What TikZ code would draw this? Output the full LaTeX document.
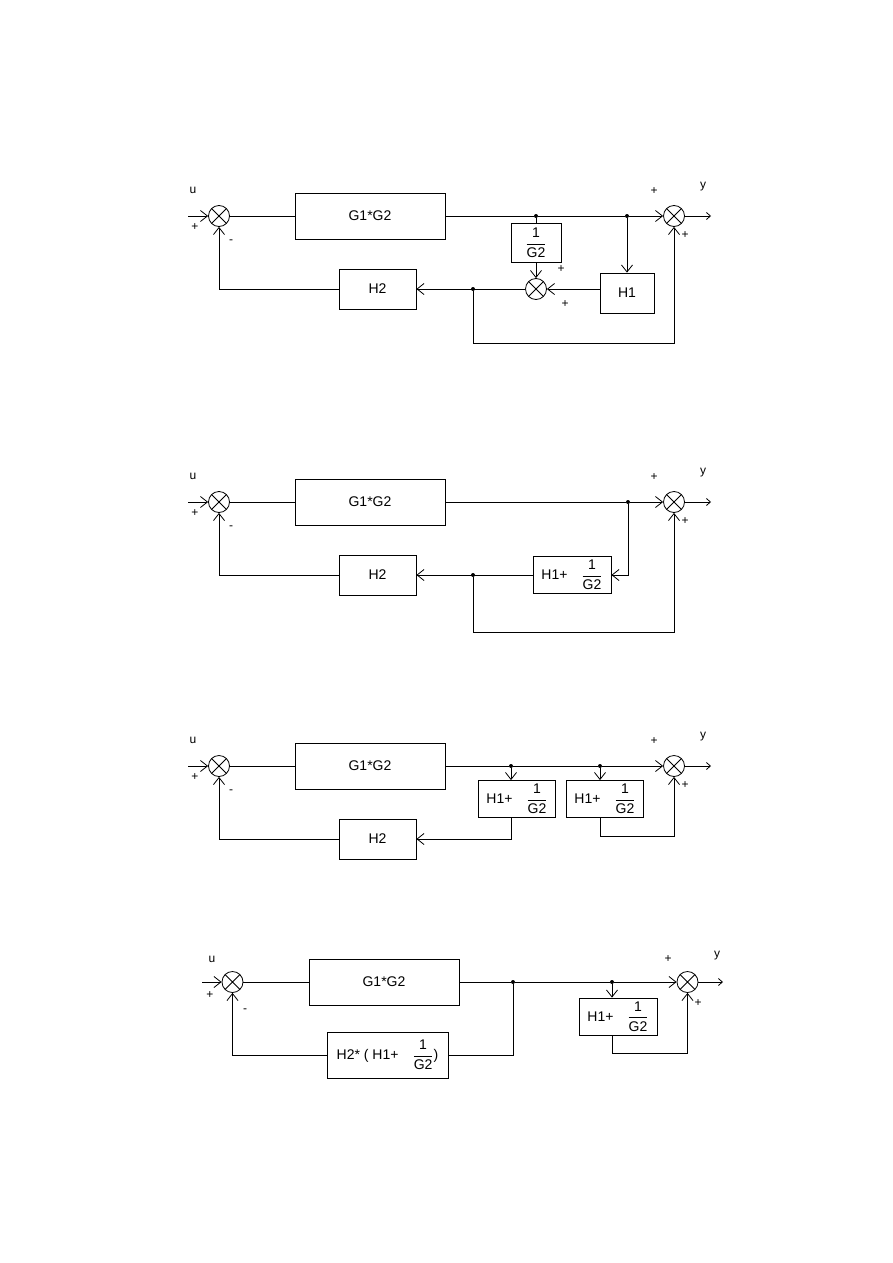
\documentclass[tikz,border=0pt]{standalone}
\usepackage{amsmath}
\usepackage{fontspec}
\setmainfont{Liberation Sans}
\usetikzlibrary{arrows.meta, calc}

\newcommand{\ginv}{$\dfrac{\text{1}}{\text{G2}}$}

\begin{document}
\begin{tikzpicture}[x=1pt, y=-1pt, line width=0.8pt, >={Straight Barb[length=7pt, width=11pt]},
  font=\fontsize{14}{16}\selectfont,
  blk/.style={draw, rectangle, inner sep=2pt, align=center},
  sumc/.style={draw, circle, minimum size=21pt, inner sep=0pt,
    path picture={\draw (path picture bounding box.north west) -- (path picture bounding box.south east)
      (path picture bounding box.north east) -- (path picture bounding box.south west);}},
  dot/.style={circle, fill, inner sep=0pt, minimum size=4pt},
  sgn/.style={font=\fontsize{12}{14}\selectfont, inner sep=0pt},
  outarr/.style={-{Straight Barb[length=4pt, width=7pt]}}]
\useasboundingbox (0,0) rectangle (893,1263);

% first diagram
\coordinate (ina) at (188,216);
\coordinate (outa) at (711,216);
\node[sgn] (ua) at (193,190) {u};
\node[sumc] (sa) at (219,216) {};
\node[sgn] (pa) at (195,227) {+};
\node[sgn] (ma) at (231,242) {-};
\node[blk, minimum width=150pt, minimum height=46pt] (ga) at (370,216) {G1*G2};
\node[blk, minimum width=77pt, minimum height=40pt] (h2a) at (377.5,289) {H2};
\node[dot] (da1) at (536,216) {};
\node[blk, minimum width=50pt, minimum height=39pt] (ra) at (536,243) {\ginv};
\node[sumc] (ta) at (536,289) {};
\node[sgn] (pa1) at (561,269) {+};
\node[sgn] (pa2) at (565,304) {+};
\node[blk, minimum width=54pt, minimum height=40pt] (h1a) at (627,293) {H1};
\node[dot] (da2) at (627,216) {};
\node[dot] (da3) at (473,289) {};
\node[sumc] (oa) at (674,216) {};
\node[sgn] (pa3) at (654,191) {+};
\node[sgn] (ya) at (703,187) {y};
\node[sgn] (pa4) at (685,235) {+};
\draw[->] (ina) -- (sa);
\draw (sa) -- (ga);
\draw (ga) -- (da1) -- (da2);
\draw[->] (da2) -- (oa);
\draw[outarr] (oa) -- (outa);
\draw (da1) -- (ra);
\draw[->] (ra) -- (ta);
\draw[->] (da2) -- (h1a.north -| da2);
\draw[->] (h1a.west |- ta) -- (ta);
\draw[->] (ta) -- (h2a);
\draw[->] (h2a) -| (sa);
\draw[->] (da3) -- ++(0,54) -| (oa);

% second diagram
\coordinate (inb) at (188,502);
\coordinate (outb) at (711,502);
\node[sgn] (ub) at (193,476) {u};
\node[sumc] (sb) at (219,502) {};
\node[sgn] (pb) at (195,513) {+};
\node[sgn] (mb) at (231,528) {-};
\node[blk, minimum width=150pt, minimum height=46pt] (gb) at (370,502) {G1*G2};
\node[blk, minimum width=77pt, minimum height=40pt] (h2b) at (377.5,575) {H2};
\node[blk, minimum width=78pt, minimum height=37pt] (kb) at (572,575) {H1+\quad\ginv};
\node[dot] (db1) at (628,502) {};
\node[dot] (db2) at (473,575) {};
\node[sumc] (ob) at (674,502) {};
\node[sgn] (pb3) at (654,477) {+};
\node[sgn] (yb) at (703,473) {y};
\node[sgn] (pb4) at (685,521) {+};
\draw[->] (inb) -- (sb);
\draw (sb) -- (gb);
\draw (gb) -- (db1);
\draw[->] (db1) -- (ob);
\draw[outarr] (ob) -- (outb);
\draw[->] (db1) |- (kb);
\draw[->] (kb) -- (h2b);
\draw[->] (h2b) -| (sb);
\draw[->] (db2) -- ++(0,57) -| (ob);

% third diagram
\coordinate (inc) at (188,766);
\coordinate (outc) at (711,766);
\node[sgn] (uc) at (193,740) {u};
\node[sumc] (sc) at (219,766) {};
\node[sgn] (pc) at (195,777) {+};
\node[sgn] (mc) at (231,792) {-};
\node[blk, minimum width=150pt, minimum height=46pt] (gc) at (370,766) {G1*G2};
\node[blk, minimum width=77pt, minimum height=40pt] (h2c) at (377.5,839) {H2};
\node[dot] (dc1) at (511,766) {};
\node[blk, minimum width=77pt, minimum height=37pt] (kc1) at (517,799) {H1+\quad\ginv};
\node[dot] (dc2) at (600,766) {};
\node[blk, minimum width=77pt, minimum height=37pt] (kc2) at (605,799) {H1+\quad\ginv};
\node[sumc] (oc) at (674,766) {};
\node[sgn] (pc3) at (654,741) {+};
\node[sgn] (yc) at (703,737) {y};
\node[sgn] (pc4) at (685,785) {+};
\draw[->] (inc) -- (sc);
\draw (sc) -- (gc);
\draw (gc) -- (dc1) -- (dc2);
\draw[->] (dc2) -- (oc);
\draw[outarr] (oc) -- (outc);
\draw[->] (dc1) -- (kc1.north -| dc1);
\draw[->] (dc2) -- (kc2.north -| dc2);
\draw[->] (kc1.south -| dc1) |- (h2c);
\draw[->] (h2c) -| (sc);
\draw[->] (kc2.south -| dc2) -- ++(0,18) -| (oc);

% fourth diagram
\coordinate (ind) at (202,982);
\coordinate (outd) at (723,982);
\node[sgn] (ud) at (212,959) {u};
\node[sumc] (sd) at (232.5,982) {};
\node[sgn] (pd) at (210,995) {+};
\node[sgn] (md) at (245,1011) {-};
\node[blk, minimum width=150pt, minimum height=46pt] (gd) at (384,982) {G1*G2};
\node[blk, minimum width=121pt, minimum height=46pt] (h2d) at (387.5,1055) {H2* ( H1+\quad\ginv)};
\node[dot] (dd1) at (513,982) {};
\node[dot] (dd2) at (612,982) {};
\node[blk, minimum width=78pt, minimum height=37pt] (kd) at (618,1016.5) {H1+\quad\ginv};
\node[sumc] (od) at (687.5,982) {};
\node[sgn] (pd3) at (668,959) {+};
\node[sgn] (yd) at (717,956) {y};
\node[sgn] (pd4) at (698,1003) {+};
\draw[->] (ind) -- (sd);
\draw (sd) -- (gd);
\draw (gd) -- (dd1) -- (dd2);
\draw[->] (dd2) -- (od);
\draw[outarr] (od) -- (outd);
\draw (dd1) |- (h2d);
\draw[->] (h2d) -| (sd);
\draw[->] (dd2) -- (kd.north -| dd2);
\draw[->] (kd.south -| dd2) -- ++(0,18) -| (od);
\end{tikzpicture}
\end{document}
